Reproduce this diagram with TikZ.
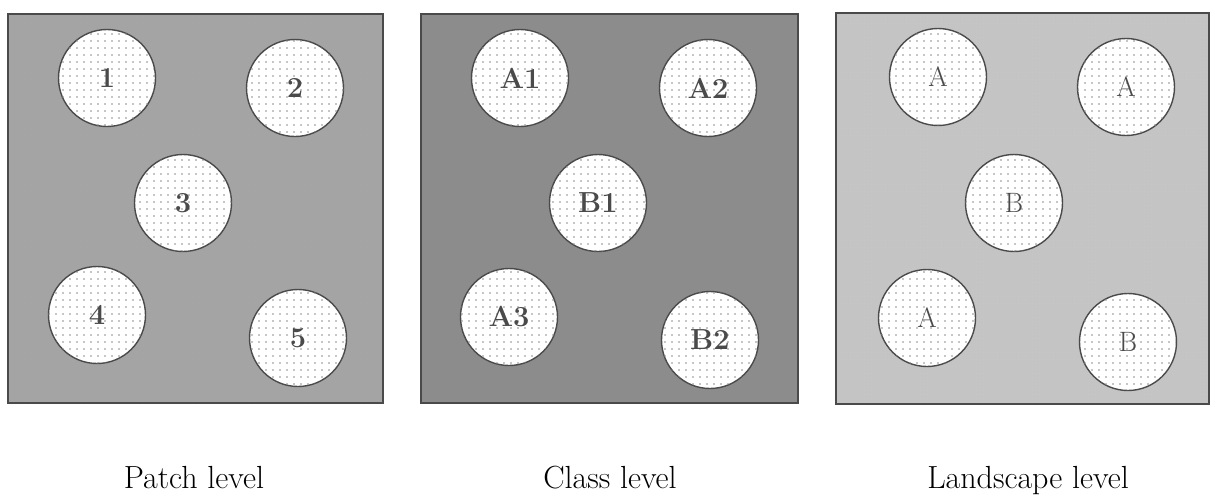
\documentclass[tikz,border=0pt]{standalone}
\usepackage{fontspec}
\usetikzlibrary{patterns.meta}
\definecolor{bgA}{HTML}{A4A4A4}
\definecolor{bgB}{HTML}{8C8C8C}
\definecolor{bgC}{HTML}{C4C4C4}
\definecolor{rim}{HTML}{4A4A4A}
\definecolor{ink}{HTML}{4A4A4A}
\tikzset{
  panel/.style={draw=rim, line width=1.2pt},
  texture/.style={pattern={Dots[distance=3.5pt,radius=0.6pt]}, pattern color=black!35},
  patch/.style={circle, draw=rim, line width=1.4pt, fill=white, minimum size=97pt, inner sep=0pt,
    postaction={pattern={Dots[distance=7pt,radius=0.9pt]}, pattern color=black!45}},
  bold/.style={font=\fontsize{29}{32}\selectfont\bfseries, text=ink},
  plain/.style={font=\fontsize{28}{32}\selectfont, text=ink},
  caption/.style={font=\fontsize{32}{36}\selectfont, text=black, anchor=base}
}
\begin{document}
\begin{tikzpicture}[x=1pt,y=-1pt]
\useasboundingbox (0,0) rectangle (1211,496);
% panels
\fill[bgA] (8,14) rectangle (383,403);
\fill[texture] (8,14) rectangle (383,403);
\draw[panel] (8,14) rectangle (383,403);
\fill[bgB] (421,14) rectangle (798,403);
\fill[texture,pattern color=black!45] (421,14) rectangle (798,403);
\draw[panel] (421,14) rectangle (798,403);
\fill[bgC] (836,13) rectangle (1209,404);
\fill[texture,pattern color=black!22] (836,13) rectangle (1209,404);
\draw[panel] (836,13) rectangle (1209,404);
% panel 1
\node[patch] (p1) at (107,78) {};
\node[patch] (p2) at (295,88) {};
\node[patch] (p3) at (183,203) {};
\node[patch] (p4) at (97,315) {};
\node[patch] (p5) at (298,338) {};
\node[bold] (t1) at (p1) {1};
\node[bold] (t2) at (p2) {2};
\node[bold] (t3) at (p3) {3};
\node[bold] (t4) at (p4) {4};
\node[bold] (t5) at (p5) {5};
% panel 2
\node[patch] (c1) at (520,78) {};
\node[patch] (c2) at (708,88) {};
\node[patch] (c3) at (598,203) {};
\node[patch] (c4) at (509,317) {};
\node[patch] (c5) at (710,340) {};
\node[bold] (u1) at (c1) {A1};
\node[bold] (u2) at (c2) {A2};
\node[bold] (u3) at (c3) {B1};
\node[bold] (u4) at (c4) {A3};
\node[bold] (u5) at (c5) {B2};
% panel 3
\node[patch] (l1) at (938,77) {};
\node[patch] (l2) at (1126,87) {};
\node[patch] (l3) at (1014,203) {};
\node[patch] (l4) at (927,318) {};
\node[patch] (l5) at (1128,342) {};
\node[plain] (v1) at (l1) {A};
\node[plain] (v2) at (l2) {A};
\node[plain] (v3) at (l3) {B};
\node[plain] (v4) at (l4) {A};
\node[plain] (v5) at (l5) {B};
% captions
\node[caption] (cap1) at (194,488) {Patch level};
\node[caption] (cap2) at (610,488) {Class level};
\node[caption] (cap3) at (1028,488) {Landscape level};
\end{tikzpicture}
\end{document}
